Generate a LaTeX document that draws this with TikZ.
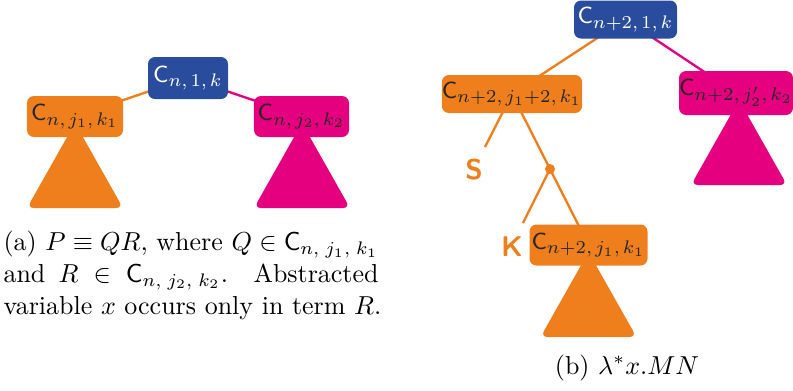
\documentclass[tikz,border=0pt]{standalone}
\usetikzlibrary{backgrounds}
\definecolor{cblue}{HTML}{2A4C9D}
\definecolor{corange}{HTML}{EF7F1D}
\definecolor{cpink}{HTML}{E4007E}
\DeclareMathSizes{9}{9}{7}{5}
\newcommand\Cs[1]{\mathsf{C}_{#1}}
\newcommand\cs{,\mskip2.5mu}
\newcommand\ccs{,\mskip5mu}
\begin{document}
\begin{tikzpicture}[x=0.385pt,y=-0.385pt,
 box/.style={rounded corners=2.7pt, inner sep=0pt, font=\fontsize{9}{11}\selectfont},
 bluebox/.style={box, fill=cblue, text=white},
 orangebox/.style={box, fill=corange, text=black!85},
 pinkbox/.style={box, fill=cpink, text=black!85},
 link/.style={line width=0.9pt},
 tri/.style={rounded corners=2.7pt},
 lab/.style={font=\fontsize{11}{13}\selectfont\sffamily\bfseries, text=corange, inner sep=0pt},
 captext/.style={anchor=base west, inner sep=0pt, font=\fontsize{10}{12}\selectfont}]
\useasboundingbox (0,0) rectangle (793,390);

% (a)
\node[bluebox, minimum width=30.8pt, minimum height=16.17pt] (ablue) at (188,78) {$\Cs{n\cs 1\cs k}$};
\node[orangebox, minimum width=36.96pt, minimum height=15.79pt] (aorange) at (75,116.5) {$\Cs{n\cs j_1\cs k_1}$};
\node[pinkbox, minimum width=36.58pt, minimum height=15.79pt] (apink) at (301.5,116.5) {$\Cs{n\cs j_2\cs k_2}$};

% (b)
\node[bluebox, minimum width=39.66pt, minimum height=14.63pt] (bblue) at (625.5,19.5) {$\Cs{n+2\cs 1\cs k}$};
\node[orangebox, minimum width=49.28pt, minimum height=14.63pt] (borange) at (512,94) {$\Cs{n+2\cs j_1+2\cs k_1}$};
\node[pinkbox, minimum width=42.74pt, minimum height=16.94pt] (bpink) at (736,93) {$\Cs{n+2\cs j'_2\cs k_2}$};
\node[orangebox, minimum width=45.43pt, minimum height=15.79pt] (blow) at (588.5,245) {$\Cs{n+2\cs j_1\cs k_1}$};
\node[circle, fill=corange, minimum size=3.85pt, inner sep=0pt] (dot) at (550,169) {};
\coordinate (Send) at (485,147);
\coordinate (Kend) at (523,223);
\node[lab] (S) at (474,170) {S};
\node[lab] (K) at (512,246.5) {K};

\begin{scope}[on background layer]
\draw[link, corange] (ablue.center) -- (aorange.center);
\draw[link, cpink] (ablue.center) -- (apink.center);
\fill[tri, corange] (aorange.center) ++(0,6.5) -- ++(-48,85) -- ++(96,0) -- cycle;
\fill[tri, cpink] (apink.center) ++(0.5,6.5) -- ++(-48,85) -- ++(96,0) -- cycle;
\draw[link, corange] (bblue.center) -- (borange.center);
\draw[link, cpink] (bblue.center) -- (bpink.center);
\fill[tri, corange] (blow.center) ++(0,7) -- ++(-48,85) -- ++(96,0) -- cycle;
\fill[tri, cpink] (bpink.center) ++(3,7) -- ++(-48,85) -- ++(96,0) -- cycle;
\draw[link, corange] (borange.center) -- (Send);
\draw[link, corange] (borange.center) -- (dot.center);
\draw[link, corange] (dot.center) -- (Kend);
\draw[link, corange] (dot.center) -- (blow.center);
\end{scope}

% captions
\node[captext] (capa1) at (3,250.7) {\makebox[144.4pt][s]{(a) $P \equiv QR$, where $Q \in \Cs{n\ccs j_1\ccs k_1}$}};
\node[captext] (capa2) at (3,282.4) {\makebox[144.4pt][s]{and $R \in \Cs{n\ccs j_2\ccs k_2}$. Abstracted}};
\node[captext] (capa3) at (3,314) {variable $x$ occurs only in term $R$.};
\node[captext, anchor=base] (capb) at (627,374) {(b) $\lambda^* x.MN$};
\end{tikzpicture}
\end{document}
